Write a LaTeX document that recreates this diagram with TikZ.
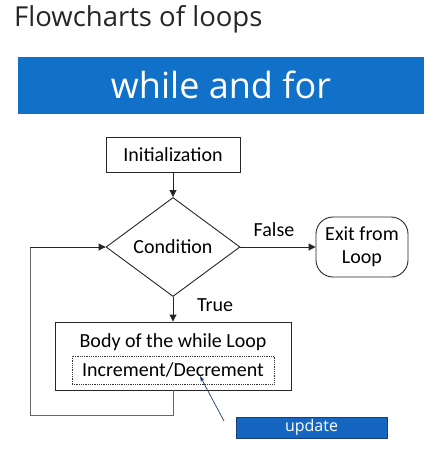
\documentclass[tikz,border=0pt]{standalone}
\usepackage{fontspec}
\setmainfont{Carlito}
\newfontfamily\titlefont{Open Sans}
\usetikzlibrary{shapes.geometric,arrows.meta}
\definecolor{bandblue}{HTML}{1170C8}
\definecolor{updblue}{HTML}{1466C0}
\definecolor{updborder}{HTML}{1A3F7A}
\definecolor{ptrblue}{HTML}{1F3D6B}
\begin{document}
\begin{tikzpicture}[x=1pt,y=-1pt,
  flow/.style={draw=black!85,line width=0.9pt},
  arr/.style={flow,-{Triangle[length=7pt,width=7pt]}},
  fs/.style={font=\fontsize{20}{22}\selectfont},
  proc/.style={draw=black!85,line width=0.9pt,rectangle,inner sep=0pt,fs},
  lbl/.style={fs,inner sep=0pt}]
\useasboundingbox (0,0) rectangle (437,458);
% title
\node[anchor=west,inner sep=0pt,font=\titlefont\fontsize{27.5}{32}\selectfont,text=black!85] (title) at (14,19) {Flowcharts of loops};
\node[fill=bandblue,minimum width=406pt,minimum height=57pt,inner sep=0pt,text=white,
  font=\titlefont\fontsize{36}{40}\selectfont] (band) at (221,85) {while and for};
% flowchart
\node[proc,minimum width=134pt,minimum height=35pt] (init) at (173,154.5) {Initialization};
\node[draw=black!85,line width=0.9pt,diamond,aspect=1.35,minimum width=134pt,minimum height=99pt,inner sep=0pt] (cond) at (173,247) {};
\node[lbl] (condtxt) at (173,247) {Condition};
\node[proc,minimum width=236pt,minimum height=68pt] (body) at (173,356) {};
\node[lbl] (bodytxt) at (173,342) {Body of the while Loop};
\node[draw=black!80,densely dotted,line width=0.8pt,minimum width=202pt,minimum height=28pt,inner sep=0pt,fs] (inc) at (173,370) {Increment/Decrement};
\node[draw=black!85,line width=0.9pt,rounded corners=17pt,minimum width=92pt,minimum height=60pt,inner sep=0pt,
  align=center,font=\fontsize{20}{23}\selectfont] (exit) at (362,247) {Exit from\\Loop};
\node[fill=updblue,draw=updborder,line width=0.6pt,minimum width=151pt,minimum height=21pt,inner sep=0pt,
  text=white,font=\titlefont\fontsize{16}{18}\selectfont] (upd) at (311.5,427.5) {update};
% connectors
\draw[arr] (init.south) -- (cond.north);
\draw[arr] (cond.south) -- (body.north);
\draw[arr] (cond.east) -- (exit.west);
\coordinate (l1) at (173,415);
\coordinate (l2) at (30,415);
\coordinate (l3) at (30,247);
\draw[flow,draw=black!60,line width=0.8pt] (body.south) -- (l1) -- (l2) -- (l3) -- ([xshift=-1pt]cond.west);
\draw[arr] (l3) -- (cond.west);
\node[lbl] (false) at (274,230) {False};
\node[lbl] (true) at (215,305) {True};
\coordinate (ptrA) at (224,421);
\coordinate (ptrB) at (200,376);
\draw[ptrblue,line width=0.7pt,-{Stealth[length=6pt,width=4pt]}] (ptrA) -- (ptrB);
\end{tikzpicture}
\end{document}
